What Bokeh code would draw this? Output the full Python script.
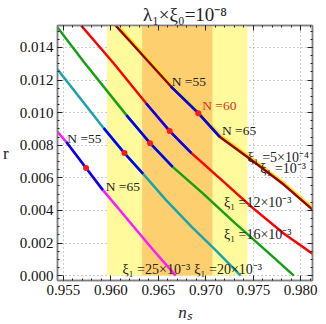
from bokeh.plotting import figure
from bokeh.models import Range1d, LinearAxis, Label, FixedTicker, CustomJSTickFormatter
from bokeh.embed import file_html
from bokeh.resources import INLINE

# ---- data ----
band2s = [0.9596, 0.9744]   # light yellow band
band1s = [0.9633, 0.9707]   # orange band

# xi1 = 5e-4 / 1e-3 (brown, overlapping)
brown_ns = [0.96050, 0.96631, 0.96921, 0.97149, 0.97481, 0.97824, 0.98124]
brown_r  = [0.01535, 0.01162, 0.00997, 0.00850, 0.00709, 0.00557, 0.00405]
# xi1 = 12e-3
red_ns = [0.95687, 0.96029, 0.96371, 0.96620, 0.96849, 0.97201, 0.97481, 0.97824, 0.98124]
red_r  = [0.01535, 0.01303, 0.01058, 0.00887, 0.00752, 0.00569, 0.00422, 0.00257, 0.00135]
# xi1 = 16e-3
green_ns = [0.95438, 0.95718, 0.96164, 0.96413, 0.96651, 0.96963, 0.97305, 0.97658, 0.97927]
green_r  = [0.01523, 0.01309, 0.00985, 0.00813, 0.00667, 0.00508, 0.00324, 0.00141, 0.0]
# xi1 = 20e-3
teal_ns = [0.95438, 0.95925, 0.96143, 0.96340, 0.96579, 0.96859, 0.97098, 0.97367]
teal_r  = [0.01266, 0.00905, 0.00752, 0.00624, 0.00465, 0.00294, 0.00159, 0.0]
# xi1 = 25e-3
mag_ns = [0.95438, 0.95531, 0.95739, 0.95915, 0.96444, 0.96683]
mag_r  = [0.00882, 0.00820, 0.00661, 0.00526, 0.00159, 0.0]

# N = 55..65 segments (blue) and N = 60 points (red)
blue_segments = [
    ([0.96631, 0.96921, 0.97149], [0.01162, 0.00997, 0.00850]),
    ([0.96371, 0.96620, 0.96849], [0.01058, 0.00887, 0.00752]),
    ([0.96164, 0.96413, 0.96651], [0.00985, 0.00813, 0.00667]),
    ([0.95925, 0.96143, 0.96340], [0.00905, 0.00752, 0.00624]),
    ([0.95531, 0.95739, 0.95915], [0.00820, 0.00661, 0.00526]),
]
n60_ns = [0.96921, 0.96620, 0.96413, 0.96143, 0.95739]
n60_r  = [0.00997, 0.00887, 0.00813, 0.00752, 0.00661]

x_ticks = [0.955, 0.960, 0.965, 0.970, 0.975, 0.980]
y_ticks = [0.000, 0.002, 0.004, 0.006, 0.008, 0.010, 0.012, 0.014]
x_minor = [round(0.954 + 0.001 * i, 3) for i in range(0, 28)]
y_minor = [round(0.0005 * i, 4) for i in range(0, 31)]

XR = (0.95438, 0.98124)
YR = (-0.0003, 0.01535)

p = figure(width=326, height=324, output_backend="svg", toolbar_location=None,
           x_range=Range1d(*XR), y_range=Range1d(*YR),
           min_border_left=53, min_border_right=14, min_border_top=25, min_border_bottom=43)
p.outline_line_color = "#808080"
p.outline_line_width = 1.5

p.title.text = "λ\u2081×ξ\u2080=10\u207b\u2078"
p.title.align = "center"
p.title.text_font = "Liberation Serif"
p.title.text_font_size = "19px"
p.title.text_font_style = "normal"
p.title.text_color = "#222222"
p.title.standoff = 1
p.title.offset = 0

# bands
p.quad(left=band2s[0], right=band2s[1], bottom=0.0, top=YR[1], fill_color="#FFFA9C", line_color=None)
p.quad(left=band1s[0], right=band1s[1], bottom=0.0, top=YR[1], fill_color="#FDCF6E", line_color=None)

# grid
p.xgrid.ticker = FixedTicker(ticks=x_ticks)
p.ygrid.ticker = FixedTicker(ticks=y_ticks)
for g in (p.xgrid, p.ygrid):
    g.grid_line_color = "#9a9a9a"
    g.grid_line_dash = "1 3"
    g.grid_line_width = 1
    g.level = "underlay"

# curves
p.line([x + 0.00012 for x in brown_ns], [y + 0.00005 for y in brown_r], line_color="#F5E11A", line_width=3)
p.line(brown_ns, brown_r, line_color="#990000", line_width=2.5)
p.line(red_ns, red_r, line_color="#FF0000", line_width=2.5)
p.line(green_ns, green_r, line_color="#13A113", line_width=2.5)
p.line(teal_ns, teal_r, line_color="#1AA5AE", line_width=2.5)
p.line(mag_ns, mag_r, line_color="#FF1AFF", line_width=2.5)
for xs, ys in blue_segments:
    p.line(xs, ys, line_color="#0000FF", line_width=2.5)
p.scatter(n60_ns, n60_r, size=6, fill_color="#FF1A1A", line_color=None)

# axes styling
def style_axis(ax):
    ax.axis_line_color = "#808080"
    ax.axis_line_width = 1.5
    ax.major_tick_in = 5
    ax.major_tick_out = 0
    ax.minor_tick_in = 2
    ax.minor_tick_out = 0
    ax.major_tick_line_color = "#222222"
    ax.minor_tick_line_color = "#222222"
    ax.major_label_text_font = "Liberation Serif"
    ax.major_label_text_font_size = "15px"
    ax.major_label_text_color = "#111111"

p.xaxis.ticker = FixedTicker(ticks=x_ticks, minor_ticks=x_minor)
p.yaxis.ticker = FixedTicker(ticks=y_ticks, minor_ticks=y_minor)
p.xaxis.formatter = CustomJSTickFormatter(code="return tick.toFixed(3);")
p.yaxis.formatter = CustomJSTickFormatter(code="return tick.toFixed(3);")
style_axis(p.xaxis[0])
style_axis(p.yaxis[0])
p.xaxis.major_label_standoff = 4
p.yaxis.major_label_standoff = 4

p.xaxis.axis_label = "n\u209b"
p.xaxis.axis_label_text_font = "Liberation Serif"
p.xaxis.axis_label_text_font_style = "italic"
p.xaxis.axis_label_text_font_size = "17px"
p.xaxis.axis_label_text_color = "#222222"
p.xaxis.axis_label_standoff = 5

p.yaxis.axis_label = "r"
p.yaxis.axis_label_text_font = "Liberation Serif"
p.yaxis.axis_label_text_font_style = "normal"
p.yaxis.axis_label_text_font_size = "17px"
p.yaxis.axis_label_text_color = "#222222"
p.yaxis.axis_label_standoff = 8
try:
    p.yaxis.axis_label_orientation = "horizontal"
except Exception:
    pass

# mirrored tick axes (top / right) without labels
top_ax = LinearAxis(ticker=FixedTicker(ticks=x_ticks, minor_ticks=x_minor),
                    formatter=CustomJSTickFormatter(code="return '';"))
right_ax = LinearAxis(ticker=FixedTicker(ticks=y_ticks, minor_ticks=y_minor),
                      formatter=CustomJSTickFormatter(code="return '';"))
for ax in (top_ax, right_ax):
    style_axis(ax)
    ax.major_label_standoff = 0
    ax.major_label_text_font_size = "1px"
p.add_layout(top_ax, "above")
p.add_layout(right_ax, "right")

# texts inside the plot
def px2ns(px):
    return 0.955 + (px - 59) / 9640.0

def py2r(py):
    return (276 - py) / 16350.0

def lab(x, y, t, size="13.5px", color="#222222"):
    p.add_layout(Label(x=px2ns(x), y=py2r(y), text=t, text_font="Liberation Serif",
                       text_font_size=size, text_color=color,
                       text_align="left", text_baseline="middle"))

lab(169, 81, "N =55")
lab(200, 105, "N =60", color="#E0301E")
lab(220, 130, "N =65")
lab(63, 138, "N =55")
lab(102, 187, "N =65")
lab(246, 157, "ξ\u2081 =5×10\u207b\u2074", size="14px")
lab(259, 169, "ξ\u2081 =10\u207b\u00b3", size="14px")
lab(222, 203, "ξ\u2081 =12×10\u207b\u00b3", size="14px")
lab(222, 235, "ξ\u2081 =16×10\u207b\u00b3", size="14px")
lab(119, 270, "ξ\u2081 =25×10\u207b\u00b3", size="14px")
lab(192, 270, "ξ\u2081 =20×10\u207b\u00b3", size="14px")

open("out.html", "w").write(file_html(p, INLINE))
